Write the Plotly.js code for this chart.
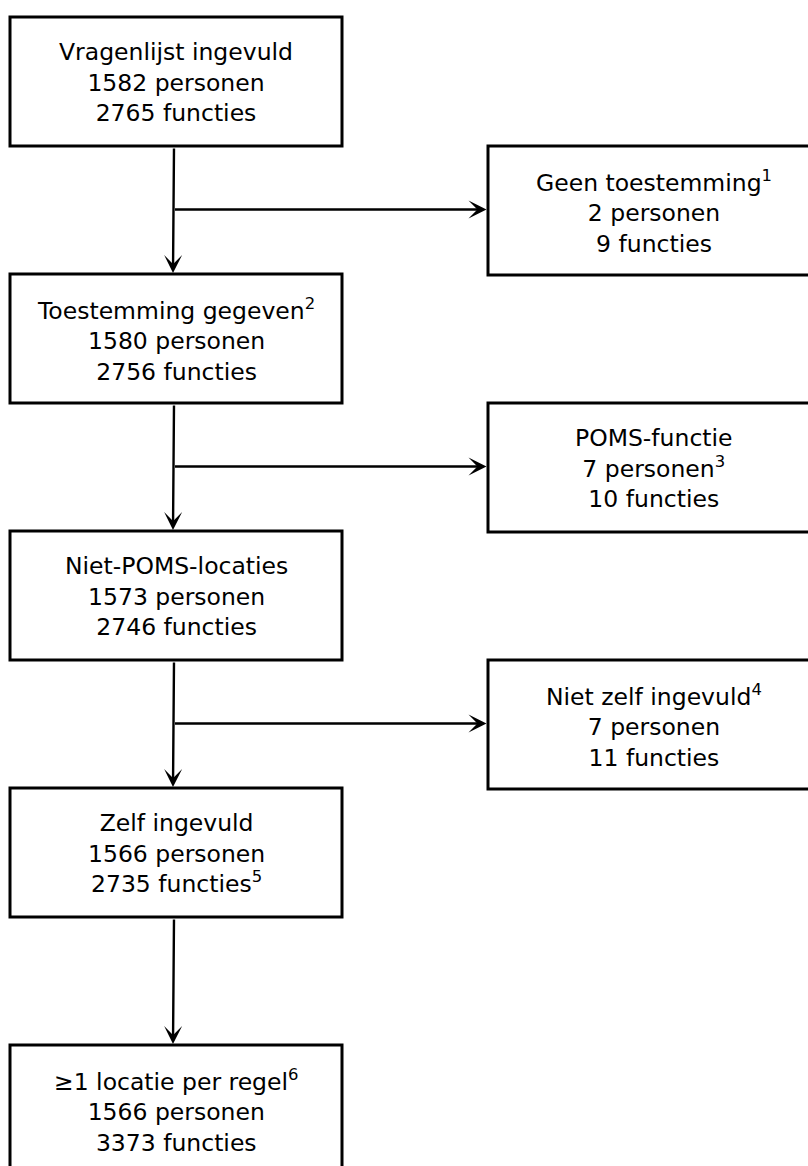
<!DOCTYPE html>
<html>
<head>
<meta charset="utf-8">
<script src="https://cdn.plot.ly/plotly-3.0.1.min.js"></script>
<style>html,body{margin:0;padding:0;background:#fff;}#chart{width:808px;height:1166px;}</style>
</head>
<body>
<div id="chart"></div>
<script>
// Main flow (left column)
const mainTitles = ["Vragenlijst ingevuld", "Toestemming gegeven<sup>2</sup>", "Niet-POMS-locaties", "Zelf ingevuld", "≥1 locatie per regel<sup>6</sup>"];
const mainPersonen = [1582, 1580, 1573, 1566, 1566];
const mainPersonenNote = ["", "", "", "", ""];
const mainFuncties = [2765, 2756, 2746, 2735, 3373];
const mainFunctiesNote = ["", "", "", "5", ""];

// Exclusions (right column)
const exclTitles = ["Geen toestemming<sup>1</sup>", "POMS-functie", "Niet zelf ingevuld<sup>4</sup>"];
const exclPersonen = [2, 7, 7];
const exclPersonenNote = ["", "3", ""];
const exclFuncties = [9, 10, 11];
const exclFunctiesNote = ["", "", ""];

// Layout geometry
const W = 808, H = 1166;
const leftX0 = 10, leftX1 = 342, rightX0 = 488, rightX1 = 820;
const boxH = 129, pitch = 257, leftTop0 = 17, rightTop0 = 146;
const stemX = 174;
const FONT = "DejaVu Sans, Verdana, sans-serif";
const FS = 23.5;

function sup(n) { return n ? "<sup>" + n + "</sup>" : ""; }
function label(t, p, pn, f, fn) {
  return t + "<br>" + p + " personen" + sup(pn) + "<br>" + f + " functies" + sup(fn);
}

const shapes = [];
const annotations = [];
const boxLine = {color: "#000", width: 3};
const arrowStyle = {showarrow: true, arrowhead: 3, arrowsize: 1.25, arrowwidth: 2.4, arrowcolor: "#000", text: "", standoff: 0};

mainTitles.forEach((t, i) => {
  const y0 = leftTop0 + i * pitch, y1 = y0 + boxH;
  shapes.push({type: "rect", xref: "x", yref: "y", x0: leftX0, x1: leftX1, y0: y0, y1: y1, line: boxLine, fillcolor: "rgba(0,0,0,0)"});
  annotations.push({x: (leftX0 + leftX1) / 2, y: (y0 + y1) / 2 + 1, xref: "x", yref: "y", showarrow: false,
    text: label(t, mainPersonen[i], mainPersonenNote[i], mainFuncties[i], mainFunctiesNote[i]),
    font: {family: FONT, size: FS, color: "#000"}, xanchor: "center", yanchor: "middle", align: "center"});
  if (i < mainTitles.length - 1) {
    annotations.push(Object.assign({x: stemX - 1, y: y1 + pitch - boxH - 1, ax: stemX, ay: y1 + 1, xref: "x", yref: "y", axref: "x", ayref: "y"}, arrowStyle));
  }
});

exclTitles.forEach((t, i) => {
  const y0 = rightTop0 + i * pitch, y1 = y0 + boxH;
  shapes.push({type: "rect", xref: "x", yref: "y", x0: rightX0, x1: rightX1, y0: y0, y1: y1, line: boxLine, fillcolor: "rgba(0,0,0,0)"});
  annotations.push({x: (rightX0 + rightX1) / 2, y: (y0 + y1) / 2 + 1, xref: "x", yref: "y", showarrow: false,
    text: label(t, exclPersonen[i], exclPersonenNote[i], exclFuncties[i], exclFunctiesNote[i]),
    font: {family: FONT, size: FS, color: "#000"}, xanchor: "center", yanchor: "middle", align: "center"});
  const ym = (y0 + y1) / 2 - 1;
  annotations.push(Object.assign({x: rightX0 - 1.5, y: ym, ax: stemX - 0.5, ay: ym, xref: "x", yref: "y", axref: "x", ayref: "y"}, arrowStyle));
});

const layout = {
  width: W, height: H,
  margin: {l: 0, r: 0, t: 0, b: 0, pad: 0},
  paper_bgcolor: "#fff", plot_bgcolor: "#fff",
  showlegend: false,
  xaxis: {range: [0, W], visible: false, fixedrange: true},
  yaxis: {range: [H, 0], visible: false, fixedrange: true},
  shapes: shapes,
  annotations: annotations
};

Plotly.newPlot("chart", [{x: [], y: [], type: "scatter", mode: "markers", hoverinfo: "skip"}], layout, {displayModeBar: false, staticPlot: true});
</script>
</body>
</html>
